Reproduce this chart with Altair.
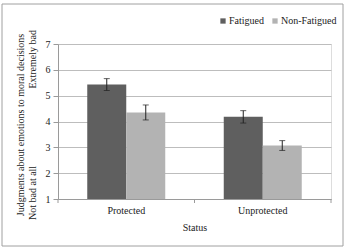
import altair as alt
import pandas as pd

# Mean judgments with standard errors, by status and fatigue condition
statuses = ["Protected", "Protected", "Unprotected", "Unprotected"]
groups = ["Fatigued", "Non-Fatigued", "Fatigued", "Non-Fatigued"]
means = [5.43, 4.35, 4.18, 3.07]
errors = [0.23, 0.29, 0.24, 0.19]

status_order = ["Protected", "Unprotected"]
group_order = ["Fatigued", "Non-Fatigued"]
group_colors = ["#5f5f5f", "#b3b3b3"]
y_ticks = [1, 2, 3, 4, 5, 6, 7]

FONT = "Liberation Serif, Times New Roman, serif"

df = pd.DataFrame({"Status": statuses, "Group": groups, "Mean": means, "SE": errors})
df["lo"] = df["Mean"] - df["SE"]
df["hi"] = df["Mean"] + df["SE"]

W, H = 273, 155

x_axis = alt.Axis(
    title="Status", titleFont=FONT, titleFontSize=10, titleFontWeight="normal",
    titleColor="#222", titlePadding=7,
    labelFont=FONT, labelFontSize=10, labelColor="#222", labelAngle=0, labelPadding=6,
    ticks=False, domainColor="#9a9a9a", domainWidth=1, grid=False,
)
y_axis = alt.Axis(
    title=None, values=y_ticks, format="d", labelOverlap=False,
    labelFont=FONT, labelFontSize=10, labelColor="#222", labelPadding=3,
    tickSize=5, tickColor="#9a9a9a", domainColor="#9a9a9a",
    grid=True, gridColor="#bdbdbd", gridWidth=1,
)
x_scale = alt.Scale(paddingInner=0, paddingOuter=0)
y_scale = alt.Scale(domain=[1, 7], nice=False)

x_enc = alt.X("Status:N", sort=status_order, scale=x_scale, axis=x_axis)
xoff_enc = alt.XOffset("Group:N", sort=group_order,
                       scale=alt.Scale(paddingInner=0, paddingOuter=0.75))

base = alt.Chart(df)

bars = base.mark_bar(stroke=None).encode(
    x=x_enc,
    xOffset=xoff_enc,
    y=alt.Y("Mean:Q", scale=y_scale, axis=y_axis),
    y2=alt.datum(1),
    color=alt.Color(
        "Group:N", sort=group_order,
        scale=alt.Scale(domain=group_order, range=group_colors),
        legend=alt.Legend(
            title=None, orient="none", direction="horizontal",
            legendX=160, legendY=-28,
            symbolType="square", symbolSize=28, symbolStrokeWidth=0,
            labelFont=FONT, labelFontSize=10, labelColor="#222",
            labelOffset=1, columnPadding=6,
        ),
    ),
)

err_rule = base.mark_rule(color="#222", strokeWidth=1).encode(
    x=x_enc, xOffset=xoff_enc,
    y=alt.Y("lo:Q", scale=y_scale, axis=y_axis), y2="hi:Q",
)
cap_lo = base.mark_tick(color="#222", thickness=1, size=6, orient="horizontal").encode(
    x=x_enc, xOffset=xoff_enc,
    y=alt.Y("lo:Q", scale=y_scale, axis=y_axis),
)
cap_hi = base.mark_tick(color="#222", thickness=1, size=6, orient="horizontal").encode(
    x=x_enc, xOffset=xoff_enc,
    y=alt.Y("hi:Q", scale=y_scale, axis=y_axis),
)

# Category-boundary tick marks below the x axis
cats = alt.Chart(pd.DataFrame({"Status": status_order}))
ticks_start = cats.mark_rule(color="#9a9a9a").encode(
    x=alt.X("Status:N", sort=status_order, scale=x_scale, axis=x_axis, bandPosition=0),
    y=alt.value(H), y2=alt.value(H + 4),
)
ticks_end = cats.mark_rule(color="#9a9a9a").encode(
    x=alt.X("Status:N", sort=status_order, scale=x_scale, axis=x_axis, bandPosition=1),
    y=alt.value(H), y2=alt.value(H + 4),
)

# Two-line rotated y-axis title
ytitle = pd.DataFrame({"t": ["Judgments about emotions to moral decisions"]})
ylow = pd.DataFrame({"t": ["Not bad at all"]})
yhigh = pd.DataFrame({"t": ["Extremely bad"]})
title_1 = alt.Chart(ytitle).mark_text(
    font=FONT, fontSize=10, color="#222", angle=270, align="center", baseline="middle"
).encode(text="t:N", x=alt.value(-37), y=alt.value(81))
title_low = alt.Chart(ylow).mark_text(
    font=FONT, fontSize=10, color="#222", angle=270, align="left", baseline="middle"
).encode(text="t:N", x=alt.value(-25), y=alt.value(176))
title_high = alt.Chart(yhigh).mark_text(
    font=FONT, fontSize=10, color="#222", angle=270, align="right", baseline="middle"
).encode(text="t:N", x=alt.value(-25), y=alt.value(-14))

# Outer frame around the whole figure
frame = alt.Chart(pd.DataFrame({"k": [0]})).mark_rect(
    fill=None, stroke="#a0a0a0", strokeWidth=1
).encode(x=alt.value(-56), x2=alt.value(285), y=alt.value(-40), y2=alt.value(202))

chart = alt.layer(
    bars, err_rule, cap_lo, cap_hi, ticks_start, ticks_end,
    title_1, title_low, title_high, frame,
).properties(
    width=W, height=H,
    autosize=alt.AutoSizeParams(type="none"),
    padding={"left": 58, "top": 44, "right": 16, "bottom": 52},
    background="white",
).configure_view(stroke=None).configure(font=FONT)

chart.save("out.html", embed_options={"renderer": "svg", "actions": False})
